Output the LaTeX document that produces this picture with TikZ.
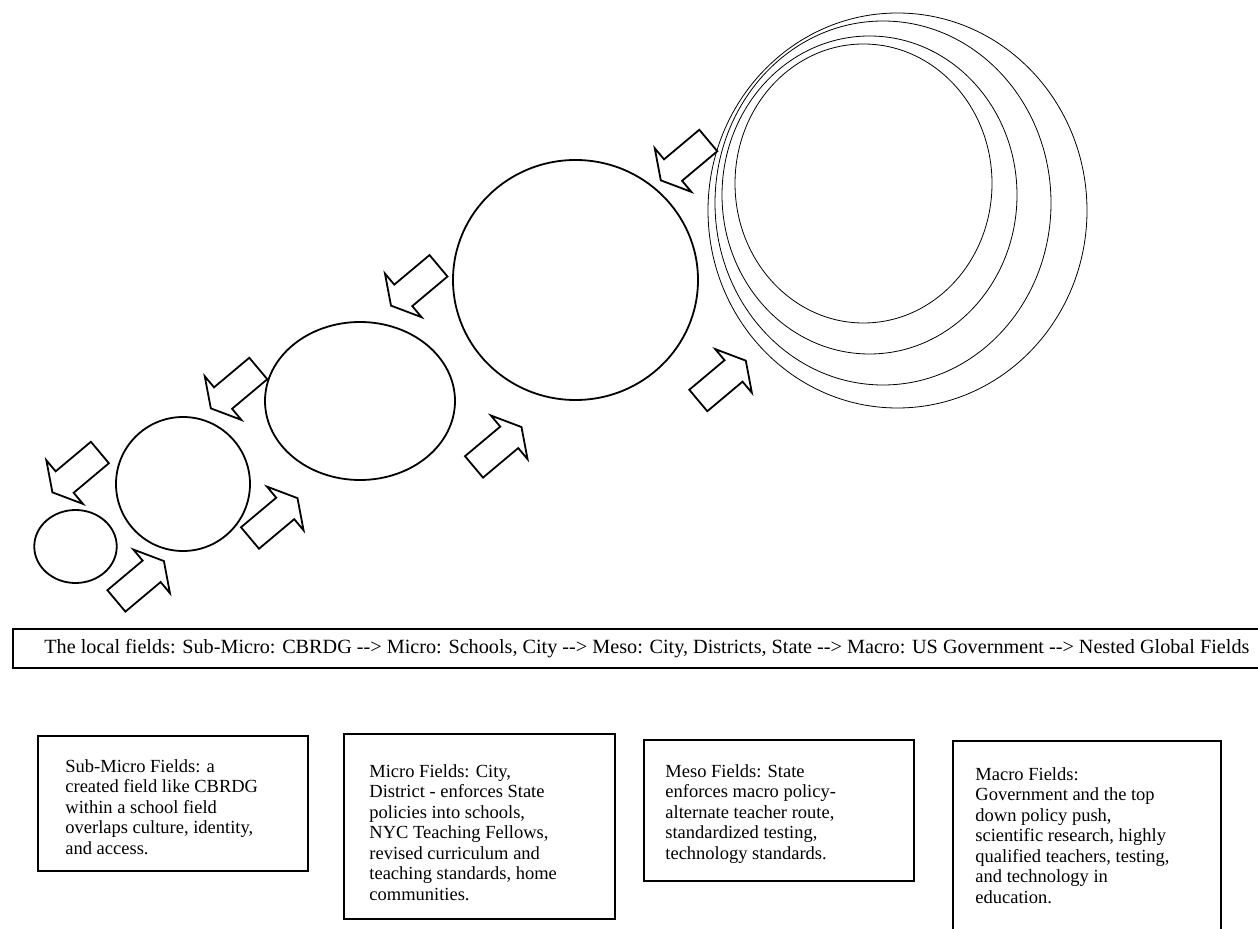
\documentclass[tikz,border=0pt]{standalone}
\usepackage{fontspec}
\setmainfont{Liberation Serif}
\usetikzlibrary{shapes.geometric,positioning}
\tikzset{
  field/.style={draw, ellipse, line width=0.9pt, inner sep=0pt},
  ring/.style={draw, ellipse, line width=0.4pt, inner sep=0pt},
  fieldbox/.style={draw, line width=0.75pt, anchor=north west, inner sep=0pt},
  fieldtext/.style={align=left, inner sep=0pt, font=\fontsize{9.25}{10.25}\selectfont},
  fieldarrow/.pic={\draw[line width=0.9pt] (0,-14) -- (46,-14) -- (46,-28.5) -- (62,0) -- (46,28.5) -- (46,14) -- (0,14) -- cycle;}
}
\begin{document}
\begin{tikzpicture}[x=0.5pt,y=0.5pt]
\useasboundingbox (0,0) rectangle (1258,928);

\node[field, minimum width=41.25pt, minimum height=36.5pt] (submicro) at (75.5,381.5) {};
\node[field, minimum width=67pt, minimum height=67pt] (micro) at (183,444) {};
\node[field, minimum width=95pt, minimum height=79pt] (meso) at (360,527) {};
\node[field, minimum width=122.5pt, minimum height=120pt] (macro) at (575.5,648) {};

\node[ring, minimum width=189.5pt, minimum height=197.5pt] (global1) at (897.5,717.5) {};
\node[ring, minimum width=168pt, minimum height=182pt] (global2) at (883,725) {};
\node[ring, minimum width=147.5pt, minimum height=159pt] (global3) at (869.5,733) {};
\node[ring, minimum width=128.5pt, minimum height=139.5pt] (global4) at (863.5,744.5) {};

\pic[rotate=220] at (99.9,475.5) {fieldarrow};
\pic[rotate=40] at (116.4,327.1) {fieldarrow};
\pic[rotate=220] at (258.3,559.5) {fieldarrow};
\pic[rotate=40] at (250,390) {fieldarrow};
\pic[rotate=220] at (438.5,662.2) {fieldarrow};
\pic[rotate=40] at (474,461.1) {fieldarrow};
\pic[rotate=220] at (708.3,787.5) {fieldarrow};
\pic[rotate=40] at (698.3,527.5) {fieldarrow};

\node[fieldbox, line width=1pt, minimum width=626pt, minimum height=19.5pt] (localbox) at (12,300) {};
\node[fieldtext, font=\fontsize{10.1}{11}\selectfont, right=16pt of localbox.west] (localtext) {The local fields: Sub-Micro: CBRDG -{}-> Micro: Schools, City -{}-> Meso: City, Districts, State -{}-> Macro: US Government -{}-> Nested Global Fields};

\node[fieldbox, minimum width=135pt, minimum height=67.5pt] (submicrobox) at (37,193) {};
\node[fieldtext, below right=12pt and 14pt of submicrobox.north west] (submicrotext) {Sub-Micro Fields: a\\created field like CBRDG\\within a school field\\overlaps culture, identity,\\and access.};

\node[fieldbox, minimum width=135.5pt, minimum height=92.5pt] (microbox) at (343,195) {};
\node[fieldtext, below right=15.5pt and 13pt of microbox.north west] (microtext) {Micro Fields: City,\\District - enforces State\\policies into schools,\\NYC Teaching Fellows,\\revised curriculum and\\teaching standards, home\\communities.};

\node[fieldbox, minimum width=135pt, minimum height=70.5pt] (mesobox) at (643,189) {};
\node[fieldtext, below right=12.5pt and 11pt of mesobox.north west] (mesotext) {Meso Fields: State\\enforces macro policy-\\alternate teacher route,\\standardized testing,\\technology standards.};

\node[fieldbox, minimum width=134pt, minimum height=96.5pt] (macrobox) at (952,188) {};
\node[fieldtext, below right=13.5pt and 11.5pt of macrobox.north west] (macrotext) {Macro Fields:\\Government and the top\\down policy push,\\scientific research, highly\\qualified teachers, testing,\\and technology in\\education.};
\end{tikzpicture}
\end{document}
